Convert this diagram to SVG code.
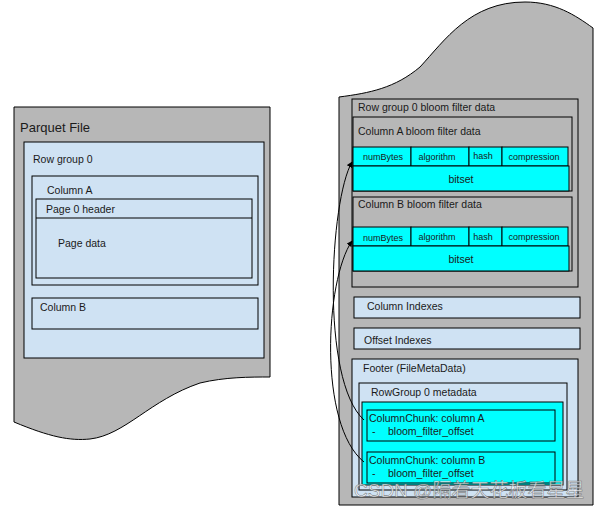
<svg xmlns="http://www.w3.org/2000/svg" width="600" height="507" viewBox="0 0 600 507">
<defs>
<marker id="arrow" viewBox="0 0 10 10" refX="9" refY="5" markerWidth="6" markerHeight="6" orient="auto-start-reverse" markerUnits="userSpaceOnUse">
<path d="M0,0 L10,5 L0,10 z" fill="#000"/>
</marker>
<style>
.doc{fill:#b7b7b7;stroke:#000;stroke-width:1}
.gray{fill:#b7b7b7;stroke:#000;stroke-width:1}
.blue{fill:#cfe2f3;stroke:#000;stroke-width:1}
.cyan{fill:#00ffff;stroke:#000;stroke-width:1}
text{font-family:"Liberation Sans",Arial,sans-serif;font-size:10.5px;fill:#1a1a1a}
.title{font-size:13px}
.cell{font-size:9px}
.mid{text-anchor:middle}
.conn{fill:none;stroke:#000;stroke-width:1}
.wm{font-family:"Liberation Sans","Noto Sans CJK SC",sans-serif;font-size:19px;fill:#ffffff;fill-opacity:0.75;stroke:#555;stroke-width:0.6;stroke-opacity:0.7}
</style>
</defs>

<g id="parquet-file">
<path class="doc" d="M14,107 L270,107 L270,377 C250,377 225,377 200,383 C150,400 125,435 90,439 C70,441 50,437 14,422 Z"/>
<text class="title" x="20" y="132">Parquet File</text>
</g>
<g id="row-group-0">
<rect class="blue" x="24" y="142" width="240" height="216"/>
<text x="33" y="163">Row group 0</text>
</g>
<g id="column-a">
<rect class="blue" x="32" y="176" width="226" height="109"/>
<text x="47" y="194">Column A</text>
</g>
<g id="page-0">
<rect class="blue" x="36" y="199" width="216" height="79"/>
<line x1="36" y1="218" x2="252" y2="218" stroke="#000" stroke-width="1"/>
<text x="46" y="213">Page 0 header</text>
<text x="58" y="247">Page data</text>
</g>
<g id="column-b">
<rect class="blue" x="32" y="298" width="226" height="31"/>
<text x="40" y="311">Column B</text>
</g>

<g id="file-right">
<path class="doc" d="M339,97 C370,93 395,88 420,67 C445,40 470,2 525,2 C555,2 575,15 593,28 L593,505 L339,505 Z"/>
</g>
<g id="rg0-bloom">
<rect class="gray" x="352" y="99" width="226" height="188"/>
<text x="358" y="111">Row group 0 bloom filter data</text>
</g>
<g id="colA-bloom">
<rect class="gray" x="353" y="117" width="219" height="74"/>
<text x="358" y="135">Column A bloom filter data</text>
<rect class="cyan" x="353" y="147" width="58" height="19"/>
<rect class="cyan" x="411" y="147" width="58" height="19"/>
<rect class="cyan" x="469" y="147" width="33" height="19"/>
<rect class="cyan" x="502" y="147" width="66" height="19"/>
<rect class="cyan" x="353" y="166" width="216" height="25"/>
<text class="cell mid" x="383" y="160">numBytes</text>
<text class="cell mid" x="437" y="160">algorithm</text>
<text class="cell mid" x="483" y="159">hash</text>
<text class="cell mid" x="534" y="160">compression</text>
<text class="mid" x="461" y="183">bitset</text>
</g>
<g id="colB-bloom">
<rect class="gray" x="353" y="197" width="219" height="74"/>
<text x="358" y="208">Column B bloom filter data</text>
<rect class="cyan" x="353" y="227" width="58" height="19"/>
<rect class="cyan" x="411" y="227" width="58" height="19"/>
<rect class="cyan" x="469" y="227" width="33" height="19"/>
<rect class="cyan" x="502" y="227" width="66" height="19"/>
<rect class="cyan" x="353" y="246" width="216" height="25"/>
<text class="cell mid" x="383" y="241">numBytes</text>
<text class="cell mid" x="437" y="240">algorithm</text>
<text class="cell mid" x="483" y="240">hash</text>
<text class="cell mid" x="534" y="240">compression</text>
<text class="mid" x="461" y="263">bitset</text>
</g>
<g id="column-indexes">
<rect class="blue" x="354" y="297" width="226" height="21"/>
<text x="367" y="310">Column Indexes</text>
</g>
<g id="offset-indexes">
<rect class="blue" x="354" y="328" width="226" height="21"/>
<text x="364" y="344">Offset Indexes</text>
</g>
<g id="footer">
<rect class="blue" x="352" y="359" width="226" height="138"/>
<text x="363" y="372">Footer (FileMetaData)</text>
</g>
<g id="rowgroup0-metadata">
<rect class="blue" x="359" y="383" width="208" height="107"/>
<text x="371" y="396">RowGroup 0 metadata</text>
<rect class="cyan" x="362" y="402" width="201" height="83"/>
</g>
<g id="columnchunk-a">
<rect class="cyan" x="367" y="410" width="188" height="31"/>
<text x="369" y="422">ColumnChunk: column A</text>
<text x="372" y="435">-</text>
<text x="388" y="435">bloom_filter_offset</text>
</g>
<g id="columnchunk-b">
<rect class="cyan" x="367" y="452" width="188" height="31"/>
<text x="369" y="464">ColumnChunk: column B</text>
<text x="372" y="477">-</text>
<text x="388" y="477">bloom_filter_offset</text>
</g>

<g id="connectors">
<path class="conn" d="M364,420 C320,380 330,200 352,162" marker-end="url(#arrow)"/>
<path class="conn" d="M364,462 C318,425 325,280 352,241" marker-end="url(#arrow)"/>
</g>

<text class="wm" x="354" y="497">CSDN @隔着天花板看星星</text>
</svg>
